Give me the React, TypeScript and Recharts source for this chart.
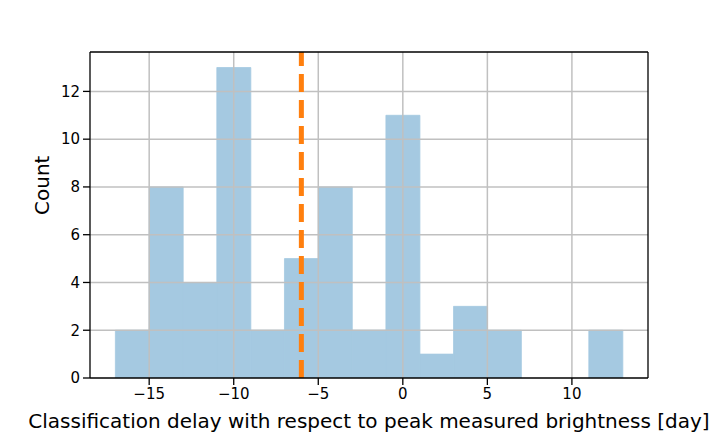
import {
  Bar,
  BarChart,
  ReferenceLine,
  XAxis,
  YAxis,
} from 'recharts'

// histogram bins: 2 days wide, centred on these values
const binCenters = [-16, -14, -12, -10, -8, -6, -4, -2, 0, 2, 4, 6, 8, 10, 12]
const counts = [2, 8, 4, 13, 2, 5, 8, 2, 11, 1, 3, 2, 0, 0, 2]
const xTicks = [-15, -10, -5, 0, 5, 10]
const yTicks = [0, 2, 4, 6, 8, 10, 12]
const xDomain = [-18.5, 14.5]
const yDomain = [0, 13.65]
const peakMarker = -6

const data = binCenters.map((x, i) => ({ x, count: counts[i] }))

const font = 'DejaVu Sans, sans-serif'
const fmt = (v: number) => String(v).replace('-', '\u2212')
const gridColor = '#c0c0c0'
const barColor = '#a5c9e1'

export default function App() {
  return (
    <div style={{ position: 'absolute', left: 0, top: 0, width: 720, height: 432, background: '#fff' }}>
      <BarChart
        width={720}
        height={432}
        data={data}
        margin={{ top: 52, right: 72, bottom: 0, left: 0 }}
        barCategoryGap={0}
        barGap={0}
      >
        <XAxis
          dataKey='x'
          type='number'
          domain={xDomain}
          ticks={xTicks}
          allowDataOverflow
          tickFormatter={fmt}
          stroke='#000'
          strokeWidth={1.3}
          tickSize={7}
          tickMargin={3}
          height={54}
          tick={{ fill: '#000', fontSize: 15, fontFamily: font }}
          label={{ value: 'Classification delay with respect to peak measured brightness [day]', position: 'insideBottom', offset: 4, fill: '#000', fontSize: 20, fontFamily: font }}
        />
        <YAxis
          type='number'
          domain={yDomain}
          ticks={yTicks}
          allowDataOverflow
          stroke='#000'
          strokeWidth={1.3}
          tickSize={7}
          tickMargin={3}
          width={90}
          tick={{ fill: '#000', fontSize: 15, fontFamily: font }}
          label={{ value: 'Count', angle: -90, position: 'insideLeft', offset: 42, fill: '#000', fontSize: 20, fontFamily: font }}
        />
        {/* same-colour stroke hides the antialiased seams between adjacent bins */}
        <Bar dataKey='count' fill={barColor} stroke={barColor} strokeWidth={0.8} isAnimationActive={false} />
        {/* grid sits above the bars, like matplotlib */}
        {xTicks.map((t) => (
          <ReferenceLine key={'gx' + t} x={t} stroke={gridColor} strokeWidth={1.5} />
        ))}
        {yTicks.slice(1).map((t) => (
          <ReferenceLine key={'gy' + t} y={t} stroke={gridColor} strokeWidth={1.5} />
        ))}
        <ReferenceLine x={peakMarker} stroke='#ff7f0e' strokeWidth={5} strokeDasharray='18 8' />
        {/* top and right frame */}
        <ReferenceLine y={yDomain[1]} stroke='#000' strokeWidth={1.3} />
        <ReferenceLine x={xDomain[1]} stroke='#000' strokeWidth={1.3} />
      </BarChart>
    </div>
  )
}
